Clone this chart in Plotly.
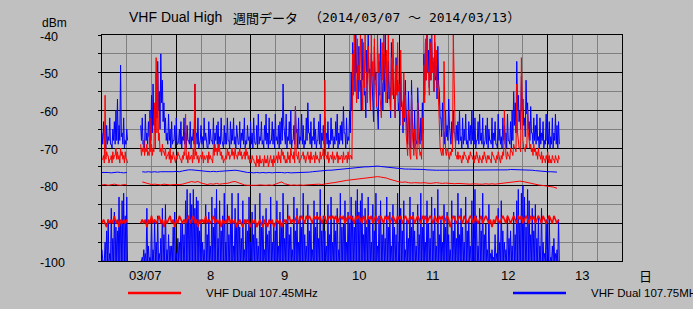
import plotly.graph_objects as go
import pandas as pd

N = None

# ---- data: 30-minute readings from 2014-03-07 00:00 (upper / lower value in each slot) ----
red_max_hi = [
    -73,-72,-56,-71,-72,-73,-72,-71,-72,-70,
    -71,-72,-70,-71,-72,-71,-73,N,N,N,
    N,N,N,N,N,-69,-70,-68,-70,-69,
    -71,-62,-69,-70,-58,-46,-50,-66,-70,-69,
    -71,-70,-72,-71,-70,-72,-71,-73,-72,-71,
    -72,-73,-72,-71,-61,-72,-71,-73,-72,-70,
    -53,-71,-72,-73,-72,-71,-72,-73,-72,-71,
    -72,-73,-70,-69,-70,-69,-70,-71,-72,-73,
    -72,-70,-71,-72,-70,-71,-70,-72,-71,-70,
    -71,-72,-71,-70,-71,-72,-73,-72,-73,-74,
    -72,-73,-72,-74,-73,-72,-73,-72,-74,-72,
    -73,-72,-73,-72,-71,-72,-70,-71,-72,-73,
    -71,-72,-70,-72,-71,-59,-72,-71,-73,-72,
    -71,-72,-73,-71,-72,-71,-73,-72,-71,-72,
    -73,-71,-72,-70,-52,-72,-71,-73,-72,-71,
    -72,-73,-71,-72,-73,-72,-71,-73,-72,-71,
    -73,-72,-45,-40,-52,-41,-48,-40,-55,-42,
    -40,-50,-43,-56,-40,-47,-41,-53,-40,-45,
    -58,-42,-40,-51,-44,-40,-55,-46,-41,-57,
    -48,-42,-53,-44,-58,-50,-56,-70,-60,-72,
    -56,-71,-65,-72,-58,-70,-71,-62,-48,-41,
    -40,-50,-42,-40,-46,-40,-44,-52,-66,-71,
    -70,-47,-71,-70,-72,-71,-70,-40,-71,-72,
    -71,-72,-73,-72,-71,-72,-73,-72,-71,-72,
    -73,-72,-71,-73,-72,-73,-72,-71,-73,-72,
    -72,-73,-71,-72,-73,-72,-71,-73,-72,-71,
    -60,-72,-71,-72,-70,-71,-69,-70,-53,-69,
    -70,-46,-68,-70,-69,-60,-68,-69,-70,-69,
    -70,-71,-70,-72,-71,-72,-73,-72,-71,-72,
    -73,-72,-73,-72,-73,-72,
]
red_max_lo = [
    -73,-74,-73,-72,-74,-73,-74,-73,-72,-73,
    -73,-74,-72,-73,-74,-73,-74,N,N,N,
    N,N,N,N,N,-72,-71,-72,-71,-72,
    -72,-71,-72,-71,-70,-66,-68,-71,-72,-71,
    -72,-73,-72,-73,-74,-73,-72,-74,-73,-72,
    -73,-74,-73,-72,-73,-74,-73,-72,-74,-73,
    -72,-73,-74,-72,-73,-74,-73,-72,-74,-73,
    -73,-74,-72,-71,-72,-71,-72,-73,-74,-73,
    -73,-72,-73,-72,-72,-73,-72,-73,-72,-72,
    -73,-72,-73,-72,-73,-74,-74,-73,-74,-75,
    -74,-75,-74,-73,-75,-74,-74,-75,-73,-74,
    -75,-74,-73,-74,-73,-74,-72,-73,-74,-74,
    -73,-74,-72,-73,-74,-72,-73,-74,-73,-72,
    -73,-74,-72,-73,-74,-73,-72,-74,-73,-73,
    -74,-73,-72,-73,-72,-73,-74,-72,-73,-74,
    -73,-72,-74,-73,-72,-74,-73,-72,-74,-73,
    -72,-73,-56,-50,-58,-52,-55,-48,-60,-54,
    -50,-58,-54,-60,-51,-56,-53,-59,-50,-55,
    -62,-52,-50,-58,-55,-52,-60,-56,-54,-62,
    -56,-55,-60,-57,-64,-62,-66,-72,-68,-73,
    -66,-72,-70,-73,-68,-72,-73,-70,-58,-52,
    -50,-56,-52,-50,-55,-51,-54,-60,-70,-72,
    -72,-60,-72,-71,-73,-72,-71,-55,-72,-73,
    -73,-72,-74,-73,-72,-73,-74,-73,-72,-73,
    -74,-73,-72,-74,-73,-74,-73,-72,-74,-73,
    -73,-74,-72,-73,-74,-73,-72,-74,-73,-72,
    -70,-73,-72,-73,-71,-72,-70,-71,-66,-70,
    -71,-62,-70,-71,-70,-66,-70,-71,-72,-71,
    -72,-73,-72,-73,-74,-73,-74,-73,-74,-74,
    -74,-73,-74,-73,-74,-73,
]

blue_max_hi = [
    -66,-63,-68,-64,-67,-62,-69,-65,-63,-60,
    -57,-64,-48,-66,-62,-68,-65,N,N,N,
    N,N,N,N,N,-64,-62,-68,-61,-66,
    -63,-60,-56,-53,-59,-50,-47,-55,-45,-52,
    -58,-62,-66,-61,-65,-63,-68,-64,-62,-69,
    -65,-63,-67,-62,-66,-64,-68,-63,-67,-65,
    -53,-66,-62,-69,-64,-67,-62,-66,-70,-63,
    -65,-68,-62,-66,-64,-63,-67,-62,-69,-64,
    -66,-62,-68,-63,-65,-62,-67,-64,-69,-63,
    -66,-65,-62,-68,-64,-67,-63,-66,-62,-69,
    -64,-61,-67,-63,-68,-64,-61,-66,-62,-68,
    -63,-65,-61,-67,-64,-63,-62,-53,-66,-61,
    -67,-63,-60,-68,-64,-59,-65,-62,-67,-61,
    -64,-68,-62,-58,-66,-63,-67,-62,-65,-68,
    -63,-61,-66,-64,-62,-66,-63,-68,-62,-65,
    -67,-63,-61,-66,-64,-63,-59,-66,-62,-67,
    -60,-50,-42,-44,-40,-48,-43,-52,-41,-46,
    -55,-44,-40,-49,-45,-58,-43,-50,-60,-47,
    -41,-53,-45,-40,-50,-47,-54,-42,-49,-56,
    -46,-52,-58,-50,-59,-55,-52,-66,-55,-69,
    -52,-67,-60,-68,-54,-66,-62,-58,-45,-42,
    -40,-44,-41,-40,-47,-42,-48,-43,-55,-62,
    -58,-66,-60,-64,-57,-67,-63,-60,-66,-64,
    -63,-60,-67,-62,-65,-61,-68,-63,-64,-60,
    -66,-62,-68,-63,-61,-66,-62,-69,-64,-62,
    -65,-68,-62,-66,-63,-69,-61,-65,-67,-62,
    -64,-66,-61,-68,-63,-60,-55,-58,-47,-56,
    -60,-51,-57,-62,-52,-58,-63,-59,-66,-62,
    -64,-61,-67,-62,-66,-63,-68,-61,-65,-63,
    -67,-62,-66,-61,-64,-63,
]
blue_max_lo = [
    -69,-68,-70,-69,-68,-69,-70,-68,-69,-68,
    -69,-68,-67,-69,-70,-69,-68,N,N,N,
    N,N,N,N,N,-68,-69,-70,-68,-69,
    -67,-68,-66,-64,-66,-62,-60,-65,-58,-63,
    -66,-68,-69,-68,-70,-69,-68,-70,-69,-68,
    -69,-70,-68,-69,-70,-68,-69,-70,-68,-69,
    -66,-69,-70,-68,-69,-70,-68,-69,-70,-69,
    -68,-69,-70,-68,-69,-70,-69,-68,-70,-69,
    -69,-68,-70,-69,-68,-69,-70,-68,-69,-70,
    -68,-69,-70,-69,-68,-70,-69,-70,-68,-69,
    -70,-69,-68,-69,-70,-68,-69,-70,-69,-68,
    -69,-70,-68,-69,-70,-69,-68,-64,-69,-70,
    -68,-69,-70,-68,-69,-66,-70,-69,-68,-69,
    -70,-69,-68,-66,-69,-70,-68,-69,-70,-68,
    -69,-70,-68,-69,-68,-69,-70,-69,-68,-70,
    -69,-68,-70,-69,-68,-69,-66,-70,-69,-68,
    -66,-60,-52,-55,-50,-57,-54,-60,-52,-56,
    -62,-53,-50,-58,-55,-63,-52,-59,-65,-56,
    -52,-60,-55,-50,-58,-57,-62,-52,-57,-62,
    -55,-60,-64,-59,-66,-63,-60,-69,-64,-70,
    -62,-70,-68,-69,-63,-69,-68,-66,-56,-52,
    -50,-54,-52,-50,-55,-52,-57,-53,-62,-67,
    -65,-69,-67,-68,-64,-69,-68,-66,-69,-68,
    -69,-68,-70,-69,-68,-69,-70,-68,-69,-68,
    -69,-70,-68,-69,-68,-69,-70,-68,-69,-70,
    -68,-69,-70,-68,-69,-70,-68,-69,-70,-68,
    -69,-70,-68,-69,-70,-68,-64,-66,-60,-63,
    -65,-60,-64,-67,-61,-65,-68,-66,-69,-68,
    -69,-68,-70,-69,-68,-70,-69,-68,-69,-70,
    -69,-70,-68,-69,-70,-69,
]

red_min = [
    -90,-89,-90,-91,-89,-90,-89,-90,-88,-90,
    -89,-91,-89,-90,-89,-90,-89,N,N,N,
    N,N,N,N,N,-90,-89,-90,-89,-91,
    -89,-90,-88,-90,-89,-90,-89,-88,-90,-89,
    -91,-89,-90,-89,-88,-90,-89,-91,-89,-90,
    -88,-89,-90,-89,-90,-89,-88,-90,-89,-88,
    -90,-89,-91,-89,-90,-89,-90,-88,-90,-89,
    -90,-89,-88,-90,-89,-90,-89,-91,-89,-90,
    -89,-90,-88,-90,-89,-90,-89,-91,-90,-89,
    -90,-91,-89,-90,-89,-90,-91,-89,-90,-89,
    -91,-90,-89,-90,-91,-89,-90,-91,-89,-90,
    -89,-91,-90,-89,-90,-89,-91,-90,-89,-90,
    -89,-88,-90,-89,-90,-89,-88,-90,-89,-88,
    -89,-90,-88,-89,-88,-89,-90,-88,-89,-88,
    -89,-88,-90,-89,-88,-90,-89,-88,-89,-88,
    -89,-88,-90,-89,-88,-89,-88,-90,-89,-88,
    -89,-88,-89,-90,-88,-89,-88,-89,-90,-88,
    -89,-90,-88,-89,-88,-90,-89,-88,-89,-90,
    -88,-89,-90,-88,-89,-88,-90,-89,-88,-89,
    -90,-88,-89,-88,-90,-89,-88,-89,-90,-88,
    -89,-88,-90,-89,-88,-89,-90,-88,-89,-88,
    -90,-89,-88,-89,-90,-88,-89,-90,-88,-89,
    -88,-90,-89,-88,-89,-91,-89,-88,-89,-90,
    -89,-88,-89,-90,-88,-89,-90,-89,-88,-89,
    -90,-88,-89,-90,-89,-88,-90,-89,-88,-89,
    -90,-89,-91,-89,-90,-88,-89,-90,-89,-88,
    -89,-90,-88,-89,-90,-89,-88,-89,-90,-88,
    -89,-88,-90,-89,-88,-89,-90,-88,-89,-88,
    -90,-89,-88,-89,-90,-88,-89,-90,-89,-88,
    -89,-90,-88,-89,-90,-89,
]

blue_min = [
    -97,-100,-95,-92,-89,-98,-86,-94,-87,-91,
    -92,-83,-90,-84,-82,-88,-83,N,N,N,
    N,N,N,N,N,-100,-99,-97,-98,-86,
    -96,-99,-88,-97,-89,-95,-88,-98,-94,-86,
    -93,-85,-97,-93,-96,-96,-91,-87,-98,-94,
    -95,-90,-90,-93,-84,-81,-88,-82,-85,-81,
    -86,-83,-84,-92,-89,-95,-97,-85,-93,-87,
    -96,-83,-91,-86,-81,-94,-84,-92,-88,-82,
    -95,-85,-93,-90,-82,-96,-86,-91,-82,-91,
    -94,-84,-97,-89,-92,-83,-95,-87,-93,-85,
    -94,-96,-82,-91,-88,-97,-86,-93,-92,-83,
    -95,-90,-92,-84,-96,-87,-91,-82,-94,-89,
    -85,-93,-91,-97,-83,-92,-86,-95,-88,-91,
    -82,-93,-96,-85,-92,-90,-97,-84,-91,-87,
    -94,-81,-92,-88,-92,-96,-85,-93,-83,-95,
    -89,-92,-86,-97,-82,-91,-90,-84,-95,-87,
    -90,-83,-88,-91,-84,-81,-87,-84,-82,-93,
    -86,-91,-83,-89,-95,-85,-92,-82,-96,-88,
    -84,-93,-90,-94,-83,-91,-87,-96,-85,-91,
    -93,-82,-95,-86,-92,-84,-97,-89,-94,-83,
    -91,-87,-92,-96,-85,-93,-82,-91,-88,-95,
    -84,-90,-94,-83,-92,-86,-96,-81,-93,-89,
    -95,-85,-91,-87,-93,-97,-84,-92,-88,-94,
    -82,-93,-86,-91,-95,-83,-92,-89,-96,-84,
    -94,-81,-88,-96,-86,-92,-82,-93,-90,-97,
    -85,-98,-97,-99,-93,-98,-86,-95,-84,-92,
    -95,-97,-88,-94,-92,-96,-87,-93,-84,-81,
    -90,-82,-80,-83,-91,-81,-84,-93,-86,-92,
    -85,-94,-88,-96,-86,-95,-98,-89,-97,-88,
    -99,-96,-94,-98,-97,-89,
]
NOISE_FLOOR = -100  # lowest reading of the receiver (bottom of the blue min trace)

# ---- data: hourly averages from 2014-03-07 00:00 ----
red_avg = [
    -79.8,-79.7,-79.9,-79.8,-79.6,-79.8,-79.9,-79.7,-79.8,N,
    N,N,N,-79.0,-79.3,-79.6,-79.7,-79.6,-79.7,-79.8,
    -79.6,-79.7,-79.8,-79.7,-79.8,-79.7,-79.6,-79.4,-79.0,-78.9,
    -79.1,-78.9,-79.3,-79.6,-79.7,-79.5,-79.6,-79.4,-79.6,-79.5,
    -79.4,-79.3,-79.0,-78.9,-79.2,-79.6,-79.8,-79.9,-79.9,-80.0,
    -79.9,-79.8,-79.9,-79.9,-79.8,-79.9,-79.6,-79.4,-79.0,-79.5,
    -79.8,-79.9,-79.8,-79.9,-79.8,-79.9,-79.8,-79.7,-79.8,-79.7,
    -79.6,-79.7,-79.5,-79.4,-79.3,-79.2,-79.0,-78.9,-78.8,-78.6,
    -78.5,-78.4,-78.3,-78.2,-78.0,-77.9,-77.9,-77.8,-77.7,-77.6,
    -77.7,-77.8,-78.0,-78.3,-78.6,-78.9,-79.0,-79.1,-79.0,-79.2,
    -79.3,-79.2,-79.3,-79.3,-79.2,-79.3,-79.4,-79.3,-79.2,-79.3,
    -79.4,-79.3,-79.4,-79.4,-79.5,-79.4,-79.5,-79.6,-79.5,-79.6,
    -79.5,-79.6,-79.6,-79.6,-79.5,-79.6,-79.5,-79.6,-79.5,-79.5,
    -79.4,-79.2,-79.0,-78.9,-78.8,-78.8,-78.9,-79.1,-79.3,-79.5,
    -79.7,-79.8,-79.9,-80.0,-80.1,-80.2,-80.4,-80.7,
]
blue_avg = [
    -76.5,-76.4,-76.5,-76.6,-76.5,-76.4,-76.5,-76.6,-76.5,N,
    N,N,N,-76.3,-76.4,-76.3,-76.4,-76.3,-76.4,-76.3,
    -76.3,-76.4,-76.3,-76.3,-76.2,-76.3,-76.1,-75.9,-75.8,-75.8,
    -75.9,-76.0,-76.2,-76.3,-76.2,-76.3,-76.2,-76.3,-76.2,-76.1,
    -76.0,-76.0,-75.9,-75.9,-76.0,-76.2,-76.4,-76.5,-76.5,-76.6,
    -76.5,-76.6,-76.5,-76.6,-76.5,-76.6,-76.5,-76.4,-76.5,-76.6,
    -76.5,-76.6,-76.6,-76.6,-76.5,-76.6,-76.5,-76.4,-76.3,-76.2,
    -76.1,-76.0,-76.0,-75.9,-75.9,-75.8,-75.7,-75.6,-75.5,-75.4,
    -75.3,-75.2,-75.2,-75.1,-75.1,-75.0,-75.0,-74.9,-74.8,-74.8,
    -74.9,-75.0,-75.1,-75.2,-75.4,-75.5,-75.6,-75.6,-75.6,-75.6,
    -75.6,-75.6,-75.6,-75.7,-75.7,-75.8,-75.9,-75.9,-75.9,-75.9,
    -75.9,-75.9,-76.0,-75.9,-75.9,-75.9,-76.0,-75.9,-75.9,-76.0,
    -75.9,-75.9,-75.9,-75.9,-75.9,-75.9,-75.9,-75.9,-75.9,-75.9,
    -75.8,-75.8,-75.7,-75.7,-75.7,-75.7,-75.7,-75.8,-75.8,-75.9,
    -76.0,-76.1,-76.2,-76.3,-76.3,-76.3,-76.4,-76.4,
]

y_tick_vals = [-40, -50, -60, -70, -80, -90, -100]
y_tick_labels = ["-40", "-50", "-60", "-70", "-80", "-90", "-100"]
x_tick_labels = ["03/07", "8", "9", "10", "11", "12", "13"]
series_names = ["VHF Dual 107.45MHz", "VHF Dual 107.75MHz"]
title_parts = ["VHF Dual High", "週間データ", "（2014/03/07 ～ 2014/03/13）"]

START = pd.Timestamp("2014-03-07 00:00")
RED = "#FF0000"
BLUE = "#0000FF"
BG = "#C0C0C0"
SLOT = pd.Timedelta(minutes=30)
HALF = pd.Timedelta(minutes=15)


def slots(hi, lo):
    """Each 30-min slot: its upper reading, then its lower reading 15 min later."""
    xs, ys = [], []
    for i, h in enumerate(hi):
        t = START + i * SLOT
        l = lo[i] if isinstance(lo, list) else lo
        xs += [t, t + HALF]
        ys += [h, None if (h is None or l is None) else l]
    return xs, ys


def hourly(arr):
    return pd.date_range(START, periods=len(arr), freq="60min")


fig = go.Figure()
bx, by = slots(blue_min, NOISE_FLOOR)
fig.add_trace(go.Scatter(x=bx, y=by, mode="lines", line=dict(color=BLUE, width=1),
                         name=series_names[1], hoverinfo="skip"))
fig.add_trace(go.Scatter(x=hourly(blue_avg), y=blue_avg, mode="lines",
                         line=dict(color=BLUE, width=1), name=series_names[1], hoverinfo="skip"))
bx, by = slots(blue_max_hi, blue_max_lo)
fig.add_trace(go.Scatter(x=bx, y=by, mode="lines", line=dict(color=BLUE, width=1),
                         name=series_names[1], hoverinfo="skip"))
rx = [START + i * SLOT for i in range(len(red_min))]
fig.add_trace(go.Scatter(x=rx, y=red_min, mode="lines", line=dict(color=RED, width=1.6),
                         name=series_names[0], hoverinfo="skip"))
fig.add_trace(go.Scatter(x=hourly(red_avg), y=red_avg, mode="lines",
                         line=dict(color=RED, width=1), name=series_names[0], hoverinfo="skip"))
rx2, ry2 = slots(red_max_hi, red_max_lo)
fig.add_trace(go.Scatter(x=rx2, y=ry2, mode="lines", line=dict(color=RED, width=1),
                         name=series_names[0], hoverinfo="skip"))

PL, PR, PT, PB = 102, 622, 35, 261


def px(x):
    return (x - PL) / (PR - PL)


def py(y):
    return (PB - y) / (PB - PT)


LAT = "Liberation Sans, Arial, sans-serif"
CJK = "Noto Sans CJK JP, sans-serif"
ann = []
for v, lbl in zip(y_tick_vals, y_tick_labels):
    ann.append(dict(x=px(38), xref="paper", y=v, yref="y", text=lbl, showarrow=False,
                    xanchor="left", yanchor="middle", yshift=-1.5,
                    font=dict(family=LAT, size=12.5, color="black")))
ann.append(dict(x=px(54.7), y=py(23), xref="paper", yref="paper", text="dBm",
                showarrow=False, xanchor="center", yanchor="middle",
                font=dict(family=LAT, size=12, color="black")))
shifts = [6, -3, -3, -3, -3, -3, -3]
for i, lbl in enumerate(x_tick_labels):
    ann.append(dict(x=START + pd.Timedelta(hours=24 * i + 12), xref="x", y=py(275), yref="paper",
                    text=lbl, showarrow=False, xanchor="center", yanchor="middle",
                    xshift=shifts[i], font=dict(family=LAT, size=13, color="black")))
ann.append(dict(x=px(645), y=py(275), xref="paper", yref="paper", text="日", showarrow=False,
                xanchor="center", yanchor="middle", font=dict(family=CJK, size=13, color="black")))
ann.append(dict(x=px(127), y=py(17), xref="paper", yref="paper", text=title_parts[0],
                showarrow=False, xanchor="left", yanchor="middle",
                font=dict(family=LAT, size=14, color="black")))
ann.append(dict(x=px(231), y=py(17), xref="paper", yref="paper", text=title_parts[1],
                showarrow=False, xanchor="left", yanchor="middle",
                font=dict(family=CJK, size=13, color="black")))
ann.append(dict(x=px(307), y=py(17), xref="paper", yref="paper", text=title_parts[2],
                showarrow=False, xanchor="left", yanchor="middle",
                font=dict(family="DejaVu Sans Mono, Noto Sans CJK JP, monospace", size=13,
                          color="black")))
ann.append(dict(x=px(204), y=py(292.5), xref="paper", yref="paper", text=series_names[0],
                showarrow=False, xanchor="left", yanchor="middle",
                font=dict(family=LAT, size=11.5, color="black")))
ann.append(dict(x=px(589), y=py(292.5), xref="paper", yref="paper", text=series_names[1],
                showarrow=False, xanchor="left", yanchor="middle",
                font=dict(family=LAT, size=11.5, color="black")))

shapes = [
    dict(type="line", xref="paper", yref="paper", x0=px(128), x1=px(181), y0=py(293), y1=py(293),
         line=dict(color=RED, width=2.5)),
    dict(type="line", xref="paper", yref="paper", x0=px(513), x1=px(566), y0=py(293), y1=py(293),
         line=dict(color=BLUE, width=2.5)),
]

fig.update_layout(
    width=693, height=309,
    margin=dict(l=PL, r=693 - PR, t=PT, b=309 - PB, pad=0),
    paper_bgcolor=BG, plot_bgcolor=BG,
    showlegend=False,
    annotations=ann, shapes=shapes,
    xaxis=dict(type="date", range=[START, START + pd.Timedelta(days=7)],
               tick0=START, dtick=86400000, showgrid=True, gridcolor="black", gridwidth=1,
               showticklabels=False, ticks="", showline=True, linecolor="black", linewidth=1,
               mirror=True, zeroline=False,
               minor=dict(tick0=START, dtick=28800000, showgrid=True, gridcolor="#808080",
                          gridwidth=1)),
    yaxis=dict(range=[-100, -40], tick0=-100, dtick=10, showgrid=True, gridcolor="black",
               gridwidth=1, ticks="outside", ticklen=3, tickcolor="black", tickwidth=1,
               showticklabels=False, showline=True, linecolor="black", linewidth=1,
               mirror=True, zeroline=False,
               minor=dict(dtick=5, showgrid=True, gridcolor="#808080", gridwidth=1,
                          ticks="outside", ticklen=3, tickcolor="black")),
)

fig.write_html("out.html")
